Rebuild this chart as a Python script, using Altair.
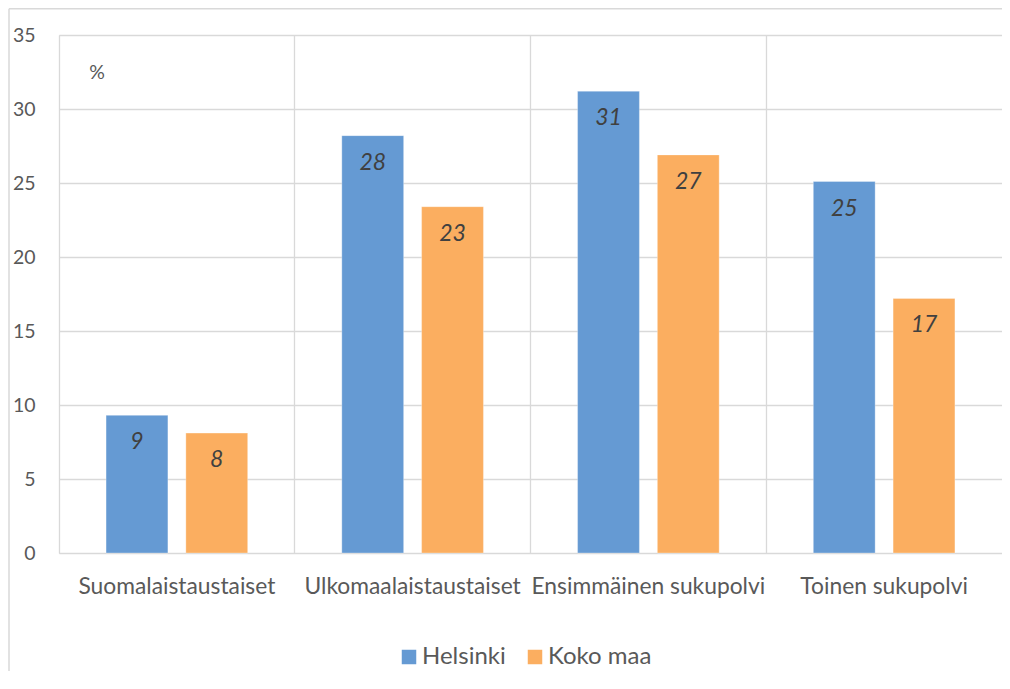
import altair as alt
import pandas as pd

categories = ["Suomalaistaustaiset", "Ulkomaalaistaustaiset", "Ensimmäinen sukupolvi", "Toinen sukupolvi"]
series = ["Helsinki", "Koko maa"]
helsinki = [9.3, 28.2, 31.2, 25.1]
koko_maa = [8.1, 23.4, 26.9, 17.2]
colors = ["#659AD3", "#FBAE60"]
y_ticks = [0, 5, 10, 15, 20, 25, 30, 35]

rows = []
for i, c in enumerate(categories):
    rows.append({"cat": c, "series": "Helsinki", "value": helsinki[i], "label": str(round(helsinki[i]))})
    rows.append({"cat": c, "series": "Koko maa", "value": koko_maa[i], "label": str(round(koko_maa[i]))})
df = pd.DataFrame(rows)

FONT = "Lato"
GRID = "#d9d9d9"
TXT = "#595959"

x_enc = alt.X("cat:N", sort=categories, title=None,
              scale=alt.Scale(paddingInner=0, paddingOuter=0),
              axis=alt.Axis(labelAngle=0, labelFontSize=22.8, labelColor=TXT, labelPadding=22,
                            labelLimit=400, domain=False, ticks=False, grid=True, bandPosition=0,
                            gridColor=GRID, gridWidth=1.3, labelFont=FONT))
y_enc = alt.Y("value:Q", title=None,
              scale=alt.Scale(domain=[0, 35], nice=False),
              axis=alt.Axis(values=y_ticks, labelFontSize=19.5, labelColor=TXT, labelPadding=24,
                            domain=False, ticks=False, grid=True, gridColor=GRID, gridWidth=1.3,
                            labelFont=FONT))
xoff = alt.XOffset("series:N", sort=series, scale=alt.Scale(paddingInner=0.225, paddingOuter=0.59))

base = alt.Chart(df)
bars = base.mark_bar(stroke="#ffffff", strokeOpacity=0.3, strokeWidth=1).encode(
    x=x_enc, y=y_enc, xOffset=xoff,
    color=alt.Color("series:N", sort=series, title=None,
                    scale=alt.Scale(domain=series, range=colors),
                    legend=alt.Legend(orient="none", legendX=338, legendY=610, direction="horizontal",
                                      symbolType="square", symbolSize=210, symbolStrokeWidth=0,
                                      labelFontSize=24, labelColor=TXT, labelFont=FONT,
                                      labelOffset=1, columnPadding=17, padding=0))
)
labels = base.mark_text(baseline="middle", dy=27, fontSize=23, fontStyle="italic",
                        color="#404040", font=FONT).encode(
    x=x_enc, y=y_enc, xOffset=xoff, text="label:N"
)

one = alt.Data(values=[{}])
pct = alt.Chart(one).mark_text(fontSize=19.5, color=TXT, font=FONT, align="center",
                               baseline="middle").encode(
    x=alt.value(38), y=alt.value(38), text=alt.value("%"))
frame_top = alt.Chart(one).mark_rule(color=GRID, strokeWidth=1.5).encode(
    x=alt.value(-50), x2=alt.value(943), y=alt.value(-26.2))
frame_left = alt.Chart(one).mark_rule(color=GRID, strokeWidth=1.5).encode(
    x=alt.value(-50), y=alt.value(-26.2), y2=alt.value(640))

chart = alt.layer(frame_top, frame_left, bars, labels, pct).properties(
    width=943, height=518,
    autosize=alt.AutoSizeParams(type="none"),
    padding={"left": 51, "top": 27, "right": 0, "bottom": 118}
).configure_view(stroke=GRID, strokeWidth=1.3).configure(font=FONT)

chart.save("out.html", embed_options={"renderer": "svg", "actions": False})
